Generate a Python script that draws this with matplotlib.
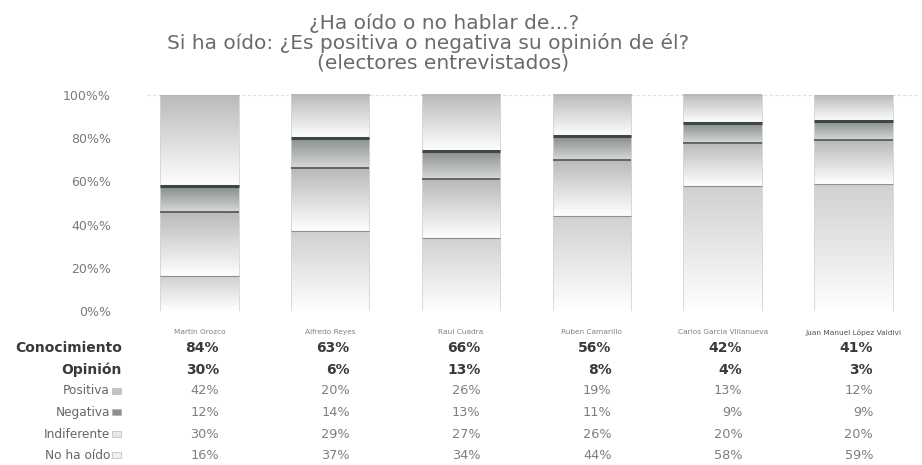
import numpy as np
import matplotlib
matplotlib.use("Agg")
import matplotlib.pyplot as plt
from matplotlib.colors import LinearSegmentedColormap
from matplotlib.patches import Rectangle
import matplotlib.transforms as mtransforms

plt.rcParams['font.family'] = ['DejaVu Sans']

candidatos = ["Martin Orozco", "Alfredo Reyes", "Raul Cuadra", "Ruben Camarillo",
              "Carlos Garcia Villanueva", "Juan Manuel López Valdivi"]
positiva = [42, 20, 26, 19, 13, 12]
negativa = [12, 14, 13, 11, 9, 9]
indiferente = [30, 29, 27, 26, 20, 20]
no_ha_oido = [16, 37, 34, 44, 58, 59]
conocimiento = [84, 63, 66, 56, 42, 41]
opinion = [30, 6, 13, 8, 4, 3]
yticks = [0, 20, 40, 60, 80, 100]

W, H = 922, 465
fig = plt.figure(figsize=(W / 100, H / 100), dpi=100)
ax = fig.add_axes([147 / W, 1 - 311 / H, (919 - 147) / W, (311 - 94) / H])

x = np.arange(len(candidatos))

# stacked from bottom: no ha oido, indiferente, negativa, positiva
series = [
    (no_ha_oido, ["#ffffff", "#d0d0d0"], "#8f8f8f", 0.8),
    (indiferente, ["#ffffff", "#b8b8b8"], "#5e6662", 1.4),
    (negativa, ["#d8d8d8", "#868d89"], "#3f4743", 2.2),
    (positiva, ["#ffffff", "#bababa"], "#b5b5b5", 0.8),
]
bottom = np.zeros(len(x))
grad = np.linspace(0, 1, 256).reshape(-1, 1)
for vals, cols, edge, lw in series:
    bars = ax.bar(x, vals, bottom=bottom, width=0.6, color="none", edgecolor="none")
    cmap = LinearSegmentedColormap.from_list("g", cols)
    for b in bars:
        x0, y0, w, h = b.get_x(), b.get_y(), b.get_width(), b.get_height()
        ax.imshow(grad, cmap=cmap, vmin=0, vmax=1, origin="lower", aspect="auto",
                  extent=[x0, x0 + w, y0, y0 + h], zorder=1, interpolation="bilinear")
        ax.plot([x0, x0 + w], [y0 + h, y0 + h], color=edge, lw=lw, zorder=3,
                solid_capstyle="butt")
    bottom += np.array(vals)

# faint side edges of the columns
for xi in x:
    ax.plot([xi - 0.3, xi - 0.3], [0, 100], color="#d4d4d4", lw=0.6, zorder=2)
    ax.plot([xi + 0.3, xi + 0.3], [0, 100], color="#d4d4d4", lw=0.6, zorder=2)

ax.axhline(100, color="#e2e2e2", lw=0.8, ls=(0, (3, 2)), zorder=0)
ax.set_xlim(-0.4, 5.5)
ax.set_ylim(0, 100.5)
ax.set_yticks(yticks)
ax.set_yticklabels([f"{v}%%" for v in yticks], color="#7a7a7a", fontsize=9)
ax.set_xticks(x)
ax.set_xticklabels(candidatos, fontsize=5.3, color="#808080")
ax.get_xticklabels()[-1].set_color("#505050")
ax.tick_params(length=0, axis="y", pad=26)
ax.tick_params(length=0, axis="x", pad=13)
for s in ax.spines.values():
    s.set_visible(False)

# titles
tcol = "#6a6a6a"
fig.text(444 / W, 1 - 23 / H, "¿Ha oído o no hablar de...?", ha="center", va="center",
         fontsize=14.5, color=tcol)
fig.text(428 / W, 1 - 43 / H, "Si ha oído: ¿Es positiva o negativa su opinión de él?",
         ha="center", va="center", fontsize=14.5, color=tcol)
fig.text(443 / W, 1 - 63 / H, "(electores entrevistados)", ha="center", va="center",
         fontsize=14.5, color=tcol)

# table below the chart
trans = mtransforms.blended_transform_factory(ax.transData, fig.transFigure)
rows = [
    ("Conocimiento", conocimiento, 348, True, None),
    ("Opinión", opinion, 370, True, None),
    ("Positiva", positiva, 391, False, "#c4c4c4"),
    ("Negativa", negativa, 412, False, "#8a918d"),
    ("Indiferente", indiferente, 434, False, "#e8e8e8"),
    ("No ha oído", no_ha_oido, 455, False, "#f0f0f0"),
]
for label, vals, ypx, bold, sw in rows:
    yf = 1 - ypx / H
    if bold:
        fig.text(122 / W, yf, label, ha="right", va="center", fontsize=10,
                 fontweight="bold", color="#3a3a3a")
    else:
        fig.text(110 / W, yf, label, ha="right", va="center", fontsize=8.7,
                 color="#666666")
        fig.patches.append(Rectangle((112 / W, yf - 3 / H), 9 / W, 6 / H,
                                     transform=fig.transFigure, facecolor=sw,
                                     edgecolor="#aaaaaa", lw=0.4))
    for xi, v in zip(x, vals):
        ax.text(xi + 0.15, yf, f"{v}%", transform=trans, ha="right", va="center",
                fontsize=10 if bold else 9.3,
                fontweight="bold" if bold else "normal",
                color="#3a3a3a" if bold else "#7e7e7e")

fig.savefig("out.png", dpi=100)
